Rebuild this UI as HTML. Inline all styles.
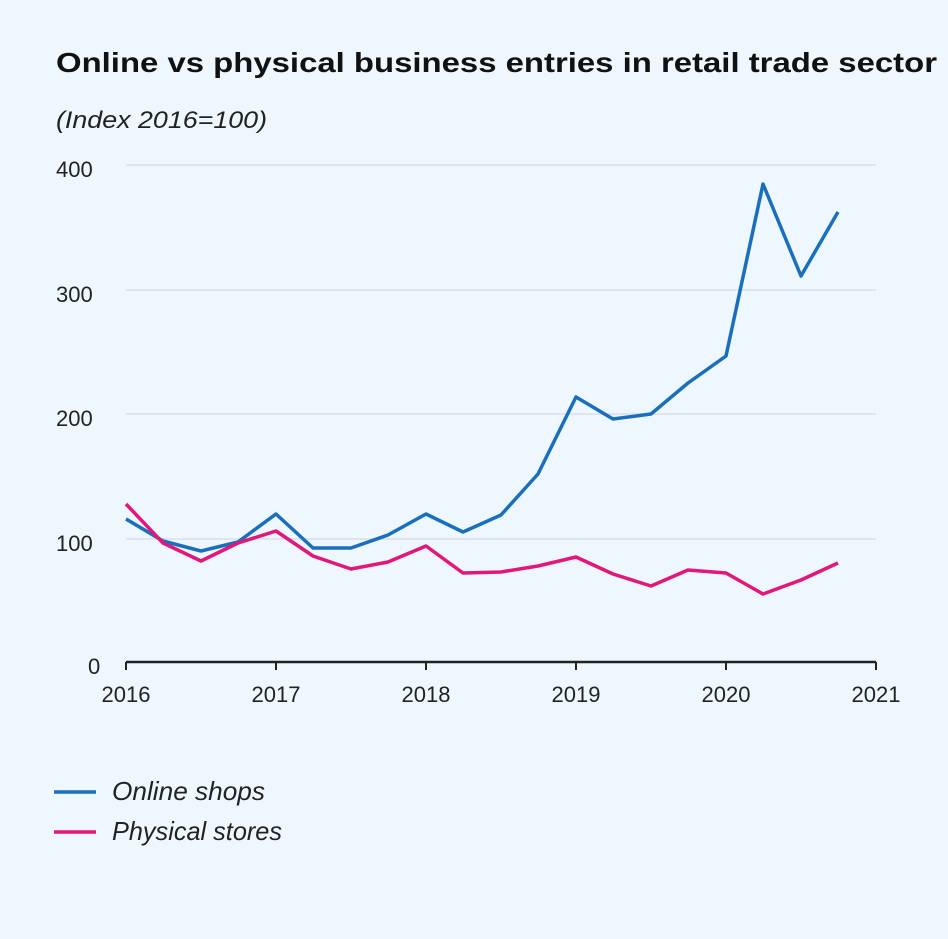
<!DOCTYPE html>
<html><head><meta charset="utf-8"><style>
html,body{margin:0;padding:0;background:#eef7fd;}
svg{display:block;}
text{font-family:"Liberation Sans",sans-serif;}
</style></head><body>
<svg width="948" height="939" viewBox="0 0 948 939" xmlns="http://www.w3.org/2000/svg">
<rect width="948" height="939" fill="#eef7fd"/>
<text x="56" y="72" font-size="28" font-weight="bold" fill="#111" textLength="881" lengthAdjust="spacingAndGlyphs">Online vs physical business entries in retail trade sector</text>
<text x="56" y="128" font-size="24" font-style="italic" fill="#222" textLength="211" lengthAdjust="spacingAndGlyphs">(Index 2016=100)</text>
<g stroke="#dcdde8" stroke-width="1.5">
<line x1="126" y1="165" x2="876" y2="165"/>
<line x1="126" y1="290" x2="876" y2="290"/>
<line x1="126" y1="414" x2="876" y2="414"/>
<line x1="126" y1="539" x2="876" y2="539"/>
</g>
<line x1="126" y1="662" x2="876" y2="662" stroke="#222" stroke-width="2.5"/>
<g stroke="#222" stroke-width="2">
<line x1="126" y1="662" x2="126" y2="670"/><line x1="276" y1="662" x2="276" y2="670"/><line x1="426" y1="662" x2="426" y2="670"/><line x1="576" y1="662" x2="576" y2="670"/><line x1="726" y1="662" x2="726" y2="670"/><line x1="876" y1="662" x2="876" y2="670"/>
</g>
<g font-size="22" fill="#222">
<text x="56" y="177">400</text><text x="56" y="302">300</text><text x="56" y="426">200</text><text x="56" y="551">100</text><text x="88" y="674">0</text>
</g>
<g font-size="22" fill="#222" text-anchor="middle">
<text x="126" y="702">2016</text><text x="276" y="702">2017</text><text x="426" y="702">2018</text><text x="576" y="702">2019</text><text x="726" y="702">2020</text><text x="876" y="702">2021</text>
</g>
<polyline fill="none" stroke="#1a6fbd" stroke-width="3.5" stroke-linejoin="round" points="126,519 163,541 201,551 238,542 276,514 313,548 351,548 388,535 426,514 463,532 501,515 538,474 576,397 613,419 651,414 688,383 726,356 763,184 801,276 838,212"/>
<polyline fill="none" stroke="#e3167a" stroke-width="3.5" stroke-linejoin="round" points="126,504 163,543 201,561 238,543 276,531 313,556 351,569 388,562 426,546 463,573 501,572 538,566 576,557 613,574 651,586 688,570 726,573 763,594 801,580 838,563"/>
<line x1="54" y1="792" x2="96" y2="792" stroke="#1a6fbd" stroke-width="3.5"/>
<line x1="54" y1="832" x2="96" y2="832" stroke="#e3167a" stroke-width="3.5"/>
<text x="112" y="800" font-size="26" font-style="italic" fill="#222" textLength="153" lengthAdjust="spacingAndGlyphs">Online shops</text>
<text x="112" y="840" font-size="26" font-style="italic" fill="#222" textLength="170" lengthAdjust="spacingAndGlyphs">Physical stores</text>
</svg>
</body></html>
